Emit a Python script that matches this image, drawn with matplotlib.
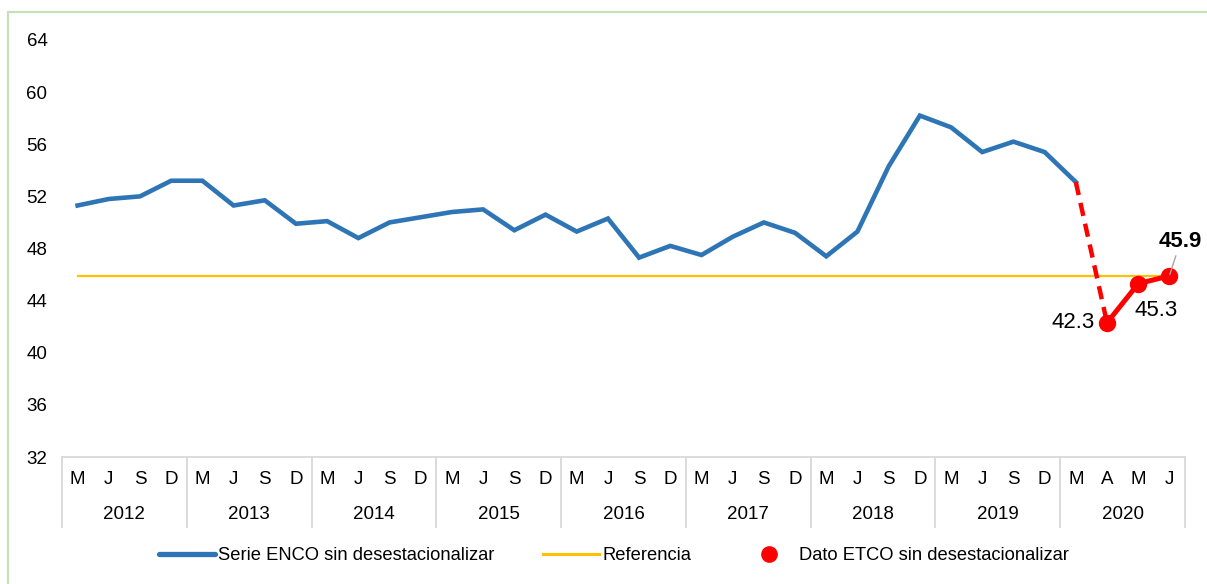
#!/usr/bin/env python3
"""
Serie ENCO vs dato ETCO, sin desestacionalizar
"""

import matplotlib
matplotlib.use('Agg')
import matplotlib.pyplot as plt
from matplotlib.lines import Line2D
import matplotlib.transforms as mtransforms

plt.rcParams['font.family'] = ['Liberation Sans', 'DejaVu Sans']

# data
years = ['2012', '2013', '2014', '2015', '2016', '2017', '2018', '2019', '2020']
months = ['M', 'J', 'S', 'D'] * 8 + ['M', 'A', 'M', 'J']

enco = [51.3, 51.8, 52.0, 53.2,
        53.2, 51.3, 51.7, 49.9,
        50.1, 48.8, 50.0, 50.4,
        50.8, 51.0, 49.4, 50.6,
        49.3, 50.3, 47.3, 48.2,
        47.5, 48.9, 50.0, 49.2,
        47.4, 49.3, 54.3, 58.2,
        57.3, 55.4, 56.2, 55.4,
        53.1]
etco = [42.3, 45.3, 45.9]
etco_labels = ['42.3', '45.3', '45.9']
referencia = 45.9

blue = '#2E75B6'
yellow = '#FFC000'
red = '#FF0000'
grid_gray = '#D9D9D9'

fig = plt.figure(figsize=(12.07, 5.84), dpi=100)
ax = fig.add_axes([62/1207, 127/584, (1185-62)/1207, (457-40)/584])

n = len(months)
x_enco = list(range(len(enco)))
x_etco = list(range(len(enco), len(enco) + len(etco)))

ax.plot([0, n - 1], [referencia, referencia], color=yellow, lw=1.6, zorder=2)
ax.plot(x_enco, enco, color=blue, lw=3.3, solid_joinstyle='miter', zorder=3)
ax.plot([x_enco[-1], x_etco[0]], [enco[-1], etco[0]], color=red, lw=3.2,
        ls=(0, (3.0, 1.8)), zorder=3)
ax.plot(x_etco, etco, color=red, lw=3.6, marker='o', ms=11.5, zorder=4)

# data labels
ax.annotate(etco_labels[0], (x_etco[0], etco[0]), xytext=(-9, 0),
            textcoords='offset points', ha='right', va='center', fontsize=16)
ax.annotate(etco_labels[1], (x_etco[1], etco[1]), xytext=(-3, -19),
            textcoords='offset points', ha='left', va='center', fontsize=16)
ax.annotate(etco_labels[2], (x_etco[2], etco[2]), xytext=(8, 25),
            textcoords='offset points', ha='center', va='center', fontsize=16,
            fontweight='bold', zorder=5,
            arrowprops=dict(arrowstyle='-', color='#A6A6A6', lw=1,
                            shrinkA=1, shrinkB=1))

ax.set_xlim(-0.5, n - 0.5)
ax.set_ylim(32, 64)
ax.set_yticks(range(32, 65, 4))
ax.tick_params(axis='y', length=0, labelsize=13.5, pad=10.5)
ax.set_xticks([])
for side in ['top', 'right', 'left']:
    ax.spines[side].set_visible(False)
ax.spines['bottom'].set_color(grid_gray)
ax.spines['bottom'].set_linewidth(1.3)

# category axis: months and years
trans = mtransforms.blended_transform_factory(ax.transData, ax.transAxes)
for i, m in enumerate(months):
    ax.text(i, -0.055, m, transform=trans, ha='center', va='center', fontsize=13.5)
for k, y in enumerate(years):
    ax.text(4*k + 1.5, -0.139, y, transform=trans, ha='center', va='center', fontsize=13.5)
for k in range(len(years) + 1):
    ax.plot([4*k - 0.5, 4*k - 0.5], [0, -0.168], transform=trans, color=grid_gray,
            lw=1.3, clip_on=False)

# legend
handles = [Line2D([], [], color=blue, lw=3.8, solid_capstyle='round'),
           Line2D([], [], color=yellow, lw=2.2),
           Line2D([], [], color=red, lw=0, marker='o', ms=11)]
labels = ['Serie ENCO sin desestacionalizar', 'Referencia', 'Dato ETCO sin desestacionalizar']
fig.legend(handles, labels, loc='center', bbox_to_anchor=(614/1207, 1 - 556/584), ncol=3,
           frameon=False, fontsize=13.2, handlelength=3.05, handletextpad=0.16,
           columnspacing=2.7)

# light green frame
fig.add_artist(Line2D([8/1207, 8/1207], [0, 1 - 12/584], color='#C5E0B4', lw=1.5))
fig.add_artist(Line2D([8/1207, 1], [1 - 12/584, 1 - 12/584], color='#C5E0B4', lw=1.5))

plt.savefig('out.png', dpi=100)
